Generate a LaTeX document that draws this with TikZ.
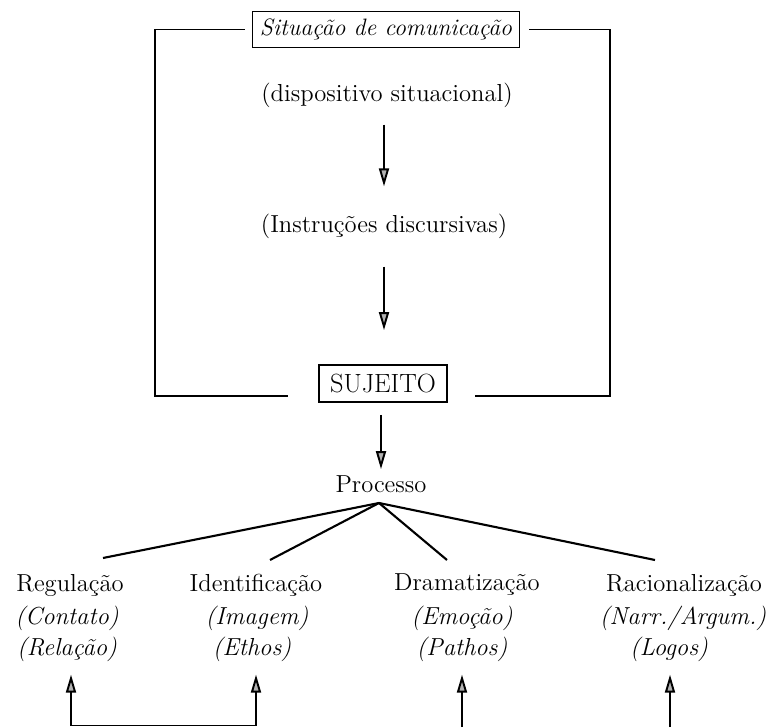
\documentclass[tikz,border=0pt]{standalone}
\usepackage{fontspec}
\usepackage{tikz}
\usetikzlibrary{arrows.meta,positioning}
\tikzset{
  framebox/.style={rectangle, draw, line width=1pt, inner sep=0pt},
  frameline/.style={line width=1.1pt},
  flowarrow/.style={-{Triangle[length=0.36cm,width=0.2cm,fill=gray!60]},
                    line width=1.1pt},
  branch/.style={line width=1.2pt},
  heading/.style={inner sep=0pt, font=\fontsize{14}{16}\selectfont},
  sublabel/.style={inner sep=0pt, font=\fontsize{14}{16}\selectfont\itshape},
}

\begin{document}
\begin{tikzpicture}
  \useasboundingbox (0,0) rectangle (15.5,14.54);
  % Situation frame
  \node[framebox, minimum width=5.34cm, minimum height=0.72cm,
        font=\fontsize{13.5}{15}\selectfont\itshape] (situacao) at (7.72,13.95) {Situação de comunicação};
  \coordinate (frameBL) at (3.1,6.62);
  \coordinate (frameBR) at (12.2,6.62);
  \coordinate (frameL) at (5.76,6.62);
  \coordinate (frameR) at (9.5,6.62);
  \draw[frameline, shorten <=0.14cm] (situacao.west) -| (frameBL) -- (frameL);
  \draw[frameline, shorten <=0.18cm] (situacao.east) -| (frameBR) -- (frameR);
  % Inside the frame
  \node[heading] (dispositivo) at (7.74,12.64) {(dispositivo situacional)};
  \node[heading] (instrucoes) at (7.68,10.02) {(Instruções discursivas)};
  \node[framebox, minimum width=2.56cm, minimum height=0.74cm,
        font=\fontsize{15}{17}\selectfont] (sujeito) at (7.66,6.87) {SUJEITO};
  \draw[flowarrow, shorten <=0.34cm, shorten >=0.54cm]
    (dispositivo.south -| instrucoes) -- (instrucoes.north);
  \draw[flowarrow, shorten <=0.56cm, shorten >=0.68cm]
    (instrucoes.south) -- (sujeito.north -| instrucoes);
  % Processo and its four branches
  \node[heading] (processo) at (7.62,4.86) {Processo};
  \draw[flowarrow, shorten <=0.24cm, shorten >=0.12cm]
    (sujeito.south -| processo) -- (processo.north);
  \coordinate (fork) at (7.58,4.48);
  \coordinate (toReg) at (2.06,3.38);
  \coordinate (toIde) at (5.4,3.34);
  \coordinate (toDra) at (8.94,3.34);
  \coordinate (toRac) at (13.1,3.34);
  \foreach \c in {toReg,toIde,toDra,toRac} {
    \draw[branch] (fork) -- (\c);
  }
  % Columns
  \node[heading] (regulacao) at (1.4,2.84) {Regulação};
  \node[sublabel] (contato) at (1.34,2.17) {(Contato)};
  \node[sublabel] (relacao) at (1.34,1.56) {(Relação)};
  \node[heading] (identificacao) at (5.12,2.84) {Identificação};
  \node[sublabel] (imagem) at (5.14,2.17) {(Imagem)};
  \node[sublabel] (ethos) at (5.04,1.56) {(Ethos)};
  \node[heading] (dramatizacao) at (9.34,2.84) {Dramatização};
  \node[sublabel] (emocao) at (9.24,2.17) {(Emoção)};
  \node[sublabel] (pathos) at (9.24,1.56) {(Pathos)};
  \node[heading] (racionalizacao) at (13.68,2.84) {Racionalização};
  \node[sublabel] (narrargum) at (13.66,2.17) {(Narr./Argum.)};
  \node[sublabel] (logos) at (13.38,1.56) {(Logos)};
  % Arrows from below
  \coordinate (baseReg) at (1.42,0.03);
  \coordinate (baseIde) at (5.12,0.03);
  \coordinate (baseDra) at (9.24,0);
  \coordinate (baseRac) at (13.4,0);
  \draw[flowarrow, shorten >=0.26cm] (baseReg) -- (baseReg |- relacao.south);
  \draw[flowarrow, shorten >=0.26cm] (baseIde) -- (baseIde |- ethos.south);
  \draw[flowarrow, shorten >=0.26cm] (baseDra) -- (baseDra |- pathos.south);
  \draw[flowarrow, shorten >=0.26cm] (baseRac) -- (baseRac |- logos.south);
  \draw[frameline] (baseReg) -- (baseIde);
\end{tikzpicture}
\end{document}
